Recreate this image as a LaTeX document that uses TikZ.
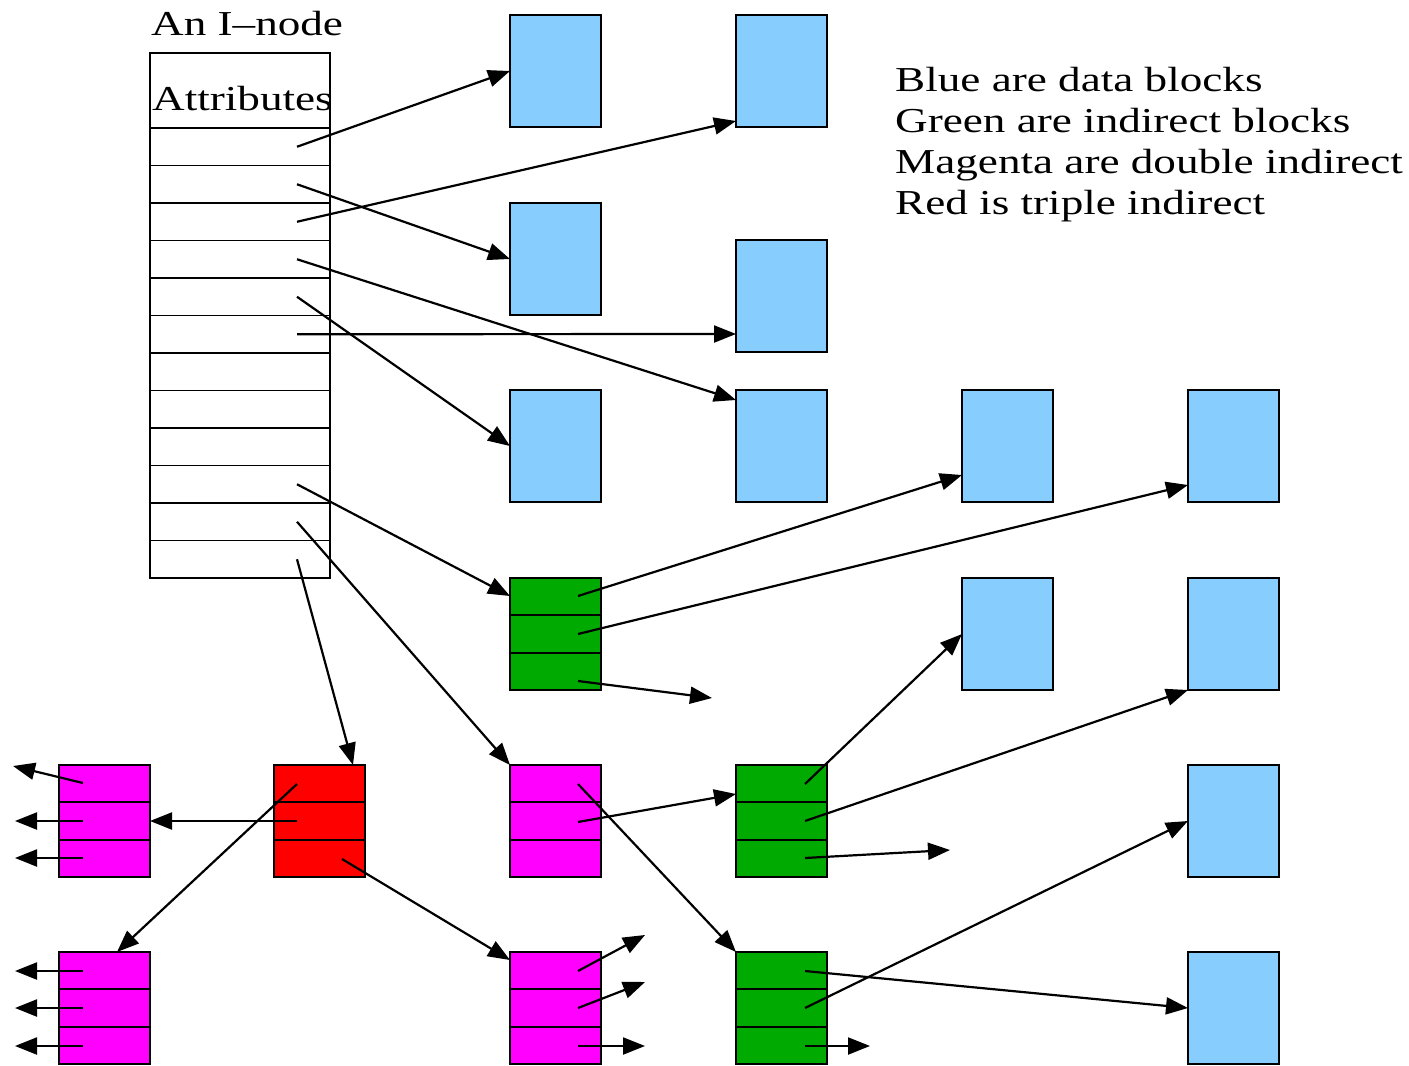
\documentclass[tikz,border=0pt]{standalone}
\usepackage{fontspec}
\newfontfamily\figfont[FakeStretch=1.29]{Liberation Serif}
\usetikzlibrary{arrows.meta,calc}

\definecolor{datablue}{HTML}{87CEFF}
\definecolor{indgreen}{HTML}{00AA00}
\definecolor{dblmag}{HTML}{FF00FF}
\definecolor{trpred}{HTML}{FF0000}

\begin{document}
\begin{tikzpicture}[x=1pt,y=-1pt,
  block/.style={draw=black, line width=2pt, minimum width=91pt, minimum height=112pt,
    inner sep=0pt, outer sep=0pt, anchor=north west},
  datablk/.style={block, fill=datablue},
  split3/.style={block, path picture={
    \draw[line width=1.8pt]
      ($(path picture bounding box.north west)!1/3!(path picture bounding box.south west)$) --
      ($(path picture bounding box.north east)!1/3!(path picture bounding box.south east)$);
    \draw[line width=1.8pt]
      ($(path picture bounding box.north west)!2/3!(path picture bounding box.south west)$) --
      ($(path picture bounding box.north east)!2/3!(path picture bounding box.south east)$);
  }},
  indblk/.style={split3, fill=indgreen},
  dblblk/.style={split3, fill=dblmag},
  trpblk/.style={split3, fill=trpred},
  ptr/.style={line width=2.2pt, -{Triangle[length=22pt,width=17pt]}},
  txt/.style={font=\figfont\fontsize{35}{40}\selectfont, inner sep=0pt, anchor=base west},
]
\useasboundingbox (0,0) rectangle (1409,1066);

% ---- the i-node: attribute area plus twelve pointer slots
\node[draw=black, line width=2pt, minimum width=180pt, minimum height=525pt,
      inner sep=0pt, outer sep=0pt, anchor=north west] (inode) at (150,53) {};
\foreach \k in {0,...,11}
  \draw[line width=1.8pt] ($(inode.north west)+(0,75+37.5*\k)$) -- ($(inode.north east)+(0,75+37.5*\k)$);
\node[txt] (title) at (151,35) {An I–node};
\node[txt] (attr) at (152,110) {Attributes};

% ---- legend
\node[txt] (leg1) at (895,91)  {Blue are data blocks};
\node[txt] (leg2) at (895,132) {Green are indirect blocks};
\node[txt] (leg3) at (895,173) {Magenta are double indirect};
\node[txt] (leg4) at (895,214) {Red is triple indirect};

% ---- data blocks
\node[datablk] (B1)  at (510,15)   {};
\node[datablk] (B2)  at (736,15)   {};
\node[datablk] (B3)  at (510,203)  {};
\node[datablk] (B4)  at (736,240)  {};
\node[datablk] (B5)  at (510,390)  {};
\node[datablk] (B6)  at (736,390)  {};
\node[datablk] (B7)  at (962,390)  {};
\node[datablk] (B8)  at (1188,390) {};
\node[datablk] (B9)  at (962,578)  {};
\node[datablk] (B10) at (1188,578) {};
\node[datablk] (B11) at (1188,765) {};
\node[datablk] (B12) at (1188,952) {};

% ---- indirect, double indirect and triple indirect blocks
\node[indblk] (G1) at (510,578) {};
\node[indblk] (G2) at (736,765) {};
\node[indblk] (G3) at (736,952) {};
\node[dblblk] (M1) at (510,765) {};
\node[dblblk] (M2) at (510,952) {};
\node[dblblk] (M3) at (59,765)  {};
\node[dblblk] (M4) at (59,952)  {};
\node[trpblk] (R)  at (274,765) {};

% ---- pointer origins inside the slots
\foreach \k in {1,...,12}
  \coordinate (i\k) at (297,{109.25+37.5*\k});
\coordinate (g1a) at (578,596);  \coordinate (g1b) at (578,634);  \coordinate (g1c) at (578,681);
\coordinate (m1a) at (578,784);  \coordinate (m1b) at (578,822);
\coordinate (g2a) at (805,784);  \coordinate (g2b) at (805,821);  \coordinate (g2c) at (805,858);
\coordinate (g3a) at (805,971);  \coordinate (g3b) at (805,1008); \coordinate (g3c) at (805,1046);
\coordinate (m2a) at (578,971);  \coordinate (m2b) at (578,1008); \coordinate (m2c) at (578,1046);
\coordinate (ra)  at (297,784);  \coordinate (rb)  at (297,821);  \coordinate (rc)  at (342,859);
\coordinate (m3a) at (83,783);   \coordinate (m3b) at (83,821);   \coordinate (m3c) at (83,858);
\coordinate (m4a) at (83,971);   \coordinate (m4b) at (83,1008);  \coordinate (m4c) at (83,1046);

% ---- loose pointer ends (blocks not shown)
\coordinate (x1)  at (712,698);
\coordinate (x2)  at (950,850);
\coordinate (x3)  at (870,1046);
\coordinate (x4)  at (645,935);  \coordinate (x5) at (645,982);  \coordinate (x6) at (645,1046);
\coordinate (x7)  at (13,766);   \coordinate (x8) at (15,821);   \coordinate (x9) at (15,858);
\coordinate (x10) at (15,971);   \coordinate (x11) at (15,1008); \coordinate (x12) at (15,1046);

% ---- pointers from the i-node
\draw[ptr] (i1)  -- (B1.west);
\draw[ptr] (i2)  -- (B3.west);
\draw[ptr] (i3)  -- ([yshift=6pt]B2.south west);
\draw[ptr] (i4)  -- ([yshift=-10pt]B6.north west);
\draw[ptr] (i5)  -- (B5.west);
\draw[ptr] (i6)  -- ([yshift=18pt]B4.south west);
\draw[ptr] (i10) -- ([yshift=-18pt]G1.north west);
\draw[ptr] (i11) -- (M1.north west);
\draw[ptr] (i12) -- ([xshift=-12pt]R.north east);

% ---- single indirect block
\draw[ptr] (g1a) -- ([yshift=27pt]B7.south west);
\draw[ptr] (g1b) -- ([yshift=17pt]B8.south west);
\draw[ptr] (g1c) -- (x1);

% ---- double indirect block
\draw[ptr] (m1a) -- (G3.north west);
\draw[ptr] (m1b) -- ([yshift=-29pt]G2.north west);
\draw[ptr] (g2a) -- (B9.west);
\draw[ptr] (g2b) -- (B10.south west);
\draw[ptr] (g2c) -- (x2);
\draw[ptr] (g3a) -- (B12.west);
\draw[ptr] (g3b) -- (B11.west);
\draw[ptr] (g3c) -- (x3);

% ---- triple indirect block
\draw[ptr] (ra) -- ([xshift=-33pt]M4.north east);
\draw[ptr] (rb) -- (M3.east);
\draw[ptr] (rc) -- ([yshift=-8pt]M2.north west);
\draw[ptr] (m2a) -- (x4);
\draw[ptr] (m2b) -- (x5);
\draw[ptr] (m2c) -- (x6);
\draw[ptr] (m3a) -- (x7);
\draw[ptr] (m3b) -- (x8);
\draw[ptr] (m3c) -- (x9);
\draw[ptr] (m4a) -- (x10);
\draw[ptr] (m4b) -- (x11);
\draw[ptr] (m4c) -- (x12);
\end{tikzpicture}
\end{document}
